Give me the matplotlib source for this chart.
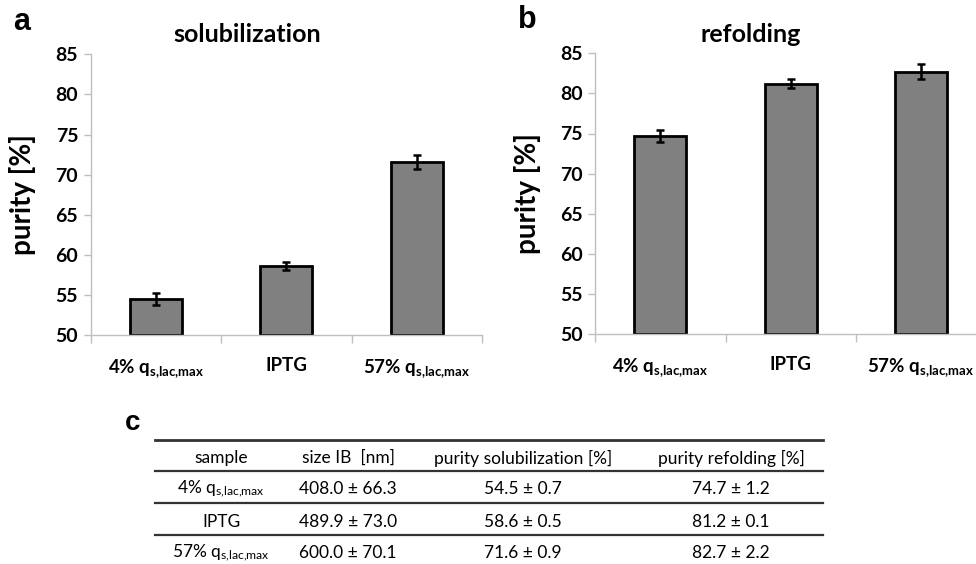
import matplotlib
matplotlib.use("Agg")
import matplotlib.pyplot as plt
import numpy as np

# ---- data ----
categories_bold = [r"4% q$_{\mathbf{s{,}lac{,}max}}$", "IPTG", r"57% q$_{\mathbf{s{,}lac{,}max}}$"]
sol_values = [54.5, 58.6, 71.6]
sol_errors = [0.7, 0.5, 0.9]
ref_values = [74.7, 81.2, 82.7]
ref_errors = [0.7, 0.55, 0.95]
y_ticks = [50, 55, 60, 65, 70, 75, 80, 85]

table_header = ["sample", "size IB  [nm]", "purity solubilization [%]", "purity refolding [%]"]
table_samples = [r"4% q$_{\mathrm{s{,}lac{,}max}}$", "IPTG", r"57% q$_{\mathrm{s{,}lac{,}max}}$"]
table_size = ["408.0 ± 66.3", "489.9 ± 73.0", "600.0 ± 70.1"]
table_sol = ["54.5 ± 0.7", "58.6 ± 0.5", "71.6 ± 0.9"]
table_ref = ["74.7 ± 1.2", "81.2 ± 0.1", "82.7 ± 2.2"]

plt.rcParams["font.family"] = ["Lato", "DejaVu Sans"]
plt.rcParams["mathtext.fontset"] = "custom"
plt.rcParams["mathtext.rm"] = "Lato"
plt.rcParams["mathtext.bf"] = "Lato:bold"
plt.rcParams["mathtext.it"] = "Lato:italic"

W, H = 976, 564
fig = plt.figure(figsize=(W / 100, H / 100), dpi=100)

def px_axes(l, t, r, b):
    return fig.add_axes([l / W, 1 - b / H, (r - l) / W, (b - t) / H])

axis_gray = "#bfbfbf"

def bar_panel(ax, vals, errs):
    x = np.arange(len(vals))
    ax.bar(x, [v - 50 for v in vals], bottom=50, width=0.40, color="#808080",
           edgecolor="black", linewidth=2, zorder=2)
    ax.errorbar(x, vals, yerr=errs, fmt="none", ecolor="black", elinewidth=1.8,
                capsize=3, capthick=1.8, zorder=3)
    ax.set_xlim(-0.5, 2.5)
    ax.set_ylim(50, 85)
    ax.set_yticks(y_ticks)
    ax.set_yticklabels([str(t) for t in y_ticks], fontsize=14, fontweight="bold")
    ax.set_xticks([-0.5, 0.5, 1.5, 2.5])
    ax.set_xticklabels([])
    ax.set_xticks(x, minor=True)
    ax.set_xticklabels(categories_bold, minor=True, fontsize=13.5, fontweight="bold")
    ax.tick_params(axis="x", which="minor", length=0, pad=16)
    ax.tick_params(axis="x", which="major", length=6, color=axis_gray, width=1)
    ax.tick_params(axis="y", length=5, color=axis_gray, width=1, pad=4)
    for s in ["top", "right"]:
        ax.spines[s].set_visible(False)
    for s in ["left", "bottom"]:
        ax.spines[s].set_color(axis_gray)
        ax.spines[s].set_linewidth(1)
    ax.set_ylabel("purity [%]", fontsize=20, fontweight="bold", labelpad=14)

ax_a = px_axes(90.7, 54.3, 482, 335)
bar_panel(ax_a, sol_values, sol_errors)
ax_b = px_axes(595.3, 53.3, 986, 334)
bar_panel(ax_b, ref_values, ref_errors)

fig.text(247 / W, 1 - 35 / H, "solubilization", fontsize=18, fontweight="bold",
         ha="center", va="center")
fig.text(751 / W, 1 - 35 / H, "refolding", fontsize=18, fontweight="bold",
         ha="center", va="center")
fig.text(22 / W, 1 - 22 / H, "a", fontsize=22, fontweight="bold", family="Liberation Sans",
         ha="center", va="center")
fig.text(527 / W, 1 - 20 / H, "b", fontsize=22, fontweight="bold", family="Liberation Sans",
         ha="center", va="center")
fig.text(133 / W, 1 - 423 / H, "c", fontsize=20, fontweight="bold", family="Liberation Sans",
         ha="center", va="center")

# ---- table ----
ax_t = fig.add_axes([0, 0, 1, 1])
ax_t.set_xlim(0, W)
ax_t.set_ylim(H, 0)
ax_t.axis("off")
line_col = "#333333"
ax_t.plot([155, 823], [440, 440], color=line_col, lw=2)
for yl in [471, 503, 535]:
    ax_t.plot([155, 823], [yl, yl], color=line_col, lw=1.6)

col_x = [221, 348, 523, 731]
header_y = 458
row_y = [489, 522, 553]
fs_t = 12.5
for cx, h in zip(col_x, table_header):
    ax_t.text(cx, header_y, h, fontsize=fs_t, ha="center", va="center")
for i, yy in enumerate(row_y):
    ax_t.text(col_x[0], yy, table_samples[i], fontsize=fs_t, ha="center", va="center")
    ax_t.text(col_x[1], yy, table_size[i], fontsize=fs_t, ha="center", va="center")
    ax_t.text(col_x[2], yy, table_sol[i], fontsize=fs_t, ha="center", va="center")
    ax_t.text(col_x[3], yy, table_ref[i], fontsize=fs_t, ha="center", va="center")

fig.savefig("out.png", dpi=100)
